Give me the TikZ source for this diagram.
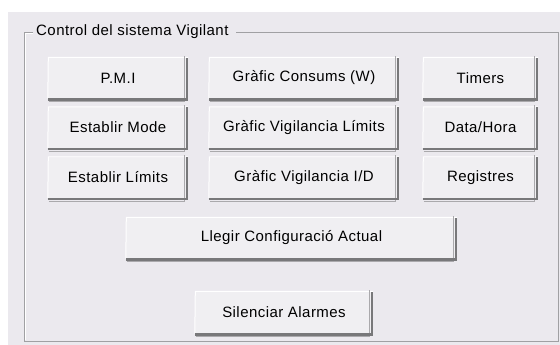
\documentclass[tikz,border=0pt]{standalone}
\usepackage{fontspec}
\setmainfont{Liberation Sans}[LetterSpace=3]
\begin{document}
\definecolor{panel}{RGB}{235,233,238}
\definecolor{face}{RGB}{240,239,242}
\definecolor{shade}{RGB}{120,120,122}
\definecolor{midshade}{RGB}{170,169,172}
\definecolor{frameline}{RGB}{160,160,163}
\tikzset{
  uifont/.style={font=\fontsize{15}{17}\selectfont, text=black},
  btn/.style={uifont, fill=face, draw=none, inner sep=0pt, anchor=center},
  hilite/.style={draw=white, line width=1pt},
  dropshade/.style={draw=shade, line width=2.6pt},
  innershade/.style={draw=midshade, line width=1pt},
}
\begin{tikzpicture}[x=1pt,y=-1pt]
  % page and window background
  \useasboundingbox (0,0) rectangle (560,345);
  \fill[white] (0,0) rectangle (560,345);
  \fill[panel] (8,12) rectangle (560,345);

  % group frame with its caption
  \draw[frameline, line width=0.8pt] (33,32) -- (24,32) -- (24,341) -- (558,341) -- (558,32) -- (236,32);
  \draw[white, line width=0.6pt] (33,33.2) -- (25.2,33.2) -- (25.2,340) ;
  \node[uifont, anchor=west, inner sep=1pt] (title) at (35,32) {Control del sistema Vigilant};

  % buttons
  \node[btn, minimum width=140, minimum height=40] (pmi)   at (118,78)   {P.M.I};
  \node[btn, minimum width=190, minimum height=40] (gcons) at (304,78)   {Gràfic Consums (W)};
  \node[btn, minimum width=115, minimum height=40] (tim)   at (480.5,78) {Timers};
  \node[btn, minimum width=140, minimum height=40] (emode) at (118,127.5)   {Establir Mode};
  \node[btn, minimum width=190, minimum height=40] (gvlim) at (304,127.5)   {Gràfic Vigilancia Límits};
  \node[btn, minimum width=115, minimum height=40] (dh)    at (480.5,127.5) {Data/Hora};
  \node[btn, minimum width=140, minimum height=40] (elim)  at (118,177.5)   {Establir Límits};
  \node[btn, minimum width=190, minimum height=40] (gvio)  at (304,177.5)   {Gràfic Vigilancia I/D};
  \node[btn, minimum width=115, minimum height=40] (reg)   at (480.5,177.5) {Registres};
  \node[btn, minimum width=331, minimum height=40] (llegir) at (291.5,238) {Llegir Configuració Actual};
  \node[btn, minimum width=178, minimum height=41] (sil)   at (284,312.5) {Silenciar Alarmes};

  % raised 3D edges of every button
  \foreach \b in {pmi,gcons,tim,emode,gvlim,dh,elim,gvio,reg,llegir,sil}{
    \draw[hilite] ([yshift=-0.5pt]\b.south west) -- ([xshift=0.5pt,yshift=0.5pt]\b.north west) -- ([yshift=0.5pt]\b.north east);
    \draw[innershade] ([xshift=1pt,yshift=-3.3pt]\b.south west) -- ([xshift=-3.3pt,yshift=-3.3pt]\b.south east) -- ([xshift=-3.3pt,yshift=2pt]\b.north east);
    \draw[dropshade] ([yshift=-1.3pt]\b.south west) -- ([xshift=-1.3pt,yshift=-1.3pt]\b.south east) -- ([xshift=-1.3pt]\b.north east);
  }
\end{tikzpicture}
\end{document}
